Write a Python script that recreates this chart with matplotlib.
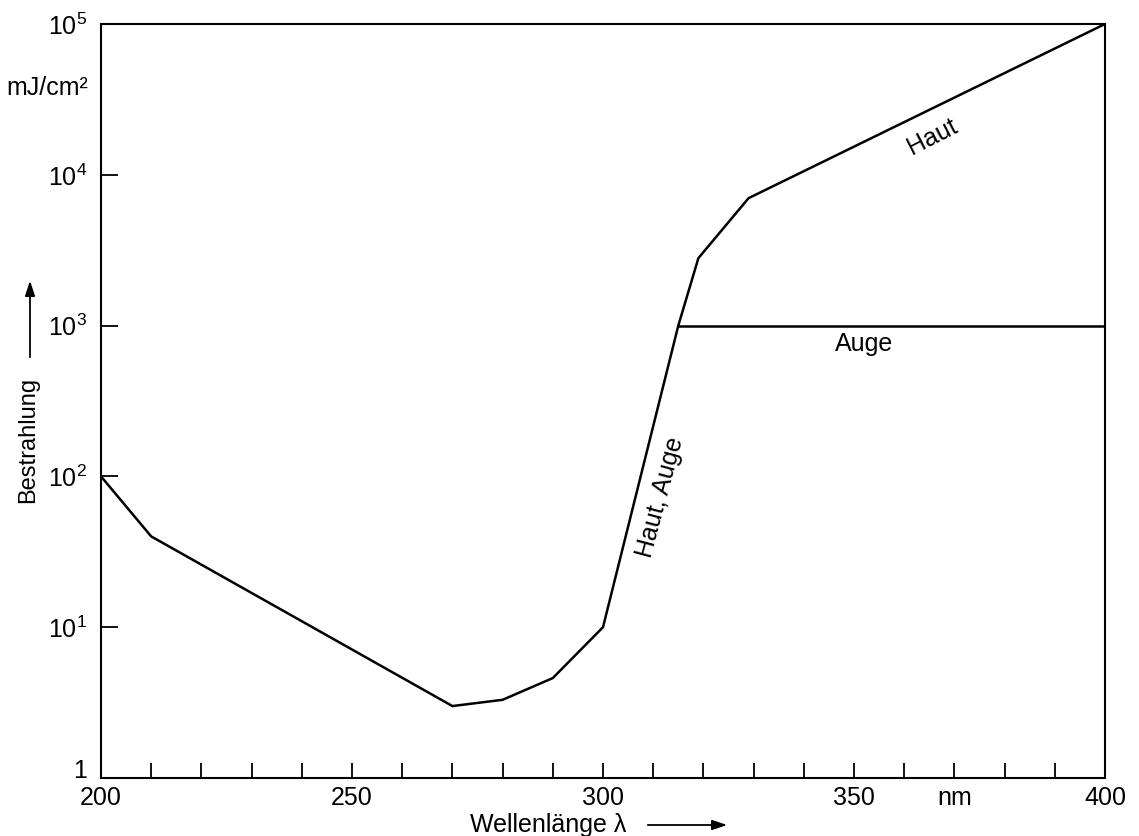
import matplotlib
matplotlib.use("Agg")
import matplotlib.pyplot as plt
import matplotlib.transforms as mtransforms
from matplotlib.patches import FancyArrowPatch

# Bestrahlungs-Grenzwerte
wl_haut = [200, 210, 270, 280, 290, 300, 315, 319, 329, 400]
h_haut = [100, 40, 3.0, 3.3, 4.6, 10, 1000, 2800, 7000, 1e5]
wl_auge = [315, 400]
h_auge = [1000, 1000]

x_ticks = list(range(200, 401, 10))
x_labels = {200: "200", 250: "250", 300: "300", 350: "350", 370: "nm", 400: "400"}
y_ticks = [1, 10, 100, 1e3, 1e4, 1e5]
y_labels = ["1", r"$\mathregular{10^1}$", r"$\mathregular{10^2}$", r"$\mathregular{10^3}$",
            r"$\mathregular{10^4}$", r"$\mathregular{10^5}$"]

plt.rcParams["font.family"] = ["Liberation Sans", "DejaVu Sans"]
plt.rcParams["mathtext.fontset"] = "custom"
plt.rcParams["mathtext.rm"] = "Liberation Sans"
plt.rcParams["mathtext.it"] = "Liberation Sans:italic"
fs = 18

W, H = 1139, 836
fig = plt.figure(figsize=(W / 100, H / 100), dpi=100)
ax = fig.add_axes([101 / W, 1 - 778 / H, (1105 - 101) / W, (778 - 24) / H])

ax.plot(wl_haut, h_haut, color="black", lw=1.8, solid_joinstyle="miter")
ax.plot(wl_auge, h_auge, color="black", lw=1.8)

ax.set_yscale("log")
ax.set_xlim(200, 400)
ax.set_ylim(1, 1e5)

ax.set_xticks(x_ticks)
ax.set_xticklabels([x_labels.get(t, "") for t in x_ticks], fontsize=fs)
ax.set_yticks(y_ticks)
ax.set_yticklabels(y_labels, fontsize=fs)
ax.minorticks_off()
ax.tick_params(axis="x", direction="in", length=11, width=1.3, pad=6)
ax.tick_params(axis="y", direction="in", length=12, width=1.3, pad=10)
for s in ax.spines.values():
    s.set_linewidth(1.5)

# "1" etwas hoeher, damit es nicht mit "200" kollidiert
lbl_one = ax.get_yticklabels()[0]
lbl_one.set_transform(lbl_one.get_transform() +
                      mtransforms.ScaledTranslation(0, 9 / 100, fig.dpi_scale_trans))

# Beschriftungen im Diagramm
ax.text(311.5, 73, "Haut, Auge", rotation=75, fontsize=fs, ha="center", va="center")
ax.text(352, 755, "Auge", fontsize=fs, ha="center", va="center")
ax.text(365.7, 1.78e4, "Haut", rotation=27, fontsize=fs, ha="center", va="center")

# Achsenbeschriftungen mit Pfeilen
fig.text(47 / W, 1 - 88 / H, "mJ/cm²", fontsize=fs, ha="center", va="center")
fig.text(28 / W, 1 - 440 / H, "Bestrahlung", rotation=90, fontsize=17, ha="center", va="center")
fig.add_artist(FancyArrowPatch(
    (30 / W, 1 - 360 / H), (30 / W, 1 - 278 / H), transform=fig.transFigure,
    arrowstyle="-|>,head_length=9,head_width=3", color="black", lw=1.3))
fig.text(548 / W, 1 - 825 / H, "Wellenlänge λ", fontsize=fs, ha="center", va="center")
fig.add_artist(FancyArrowPatch(
    (645 / W, 1 - 825 / H), (730 / W, 1 - 825 / H), transform=fig.transFigure,
    arrowstyle="-|>,head_length=9,head_width=3", color="black", lw=1.3))

fig.savefig("out.png", dpi=100)
